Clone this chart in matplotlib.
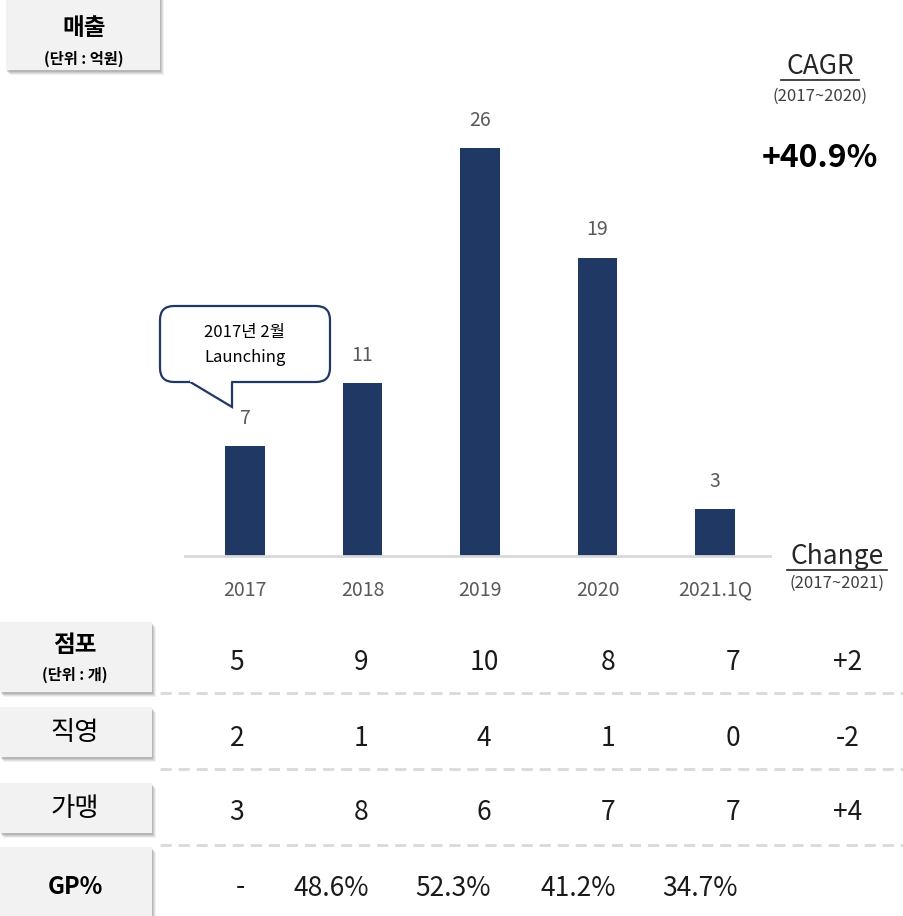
import numpy as np
import matplotlib
matplotlib.use("Agg")
import matplotlib.pyplot as plt
from matplotlib.patches import Rectangle, FancyBboxPatch, Polygon

plt.rcParams['font.family'] = ['Noto Sans CJK KR', 'DejaVu Sans']

# sales (억원) per year
years = ["2017", "2018", "2019", "2020", "2021.1Q"]
sales = [7, 11, 26, 19, 3]

# store counts
stores = [5, 9, 10, 8, 7]
direct = [2, 1, 4, 1, 0]
franchise = [3, 8, 6, 7, 7]
gp_pct = [None, 48.6, 52.3, 41.2, 34.7]
cagr = 40.9

NAVY = "#1F3864"
GRAY = "#595959"
W, H = 904, 916

fig = plt.figure(figsize=(W / 100, H / 100), dpi=100, facecolor="white")

# ---------- bar chart ----------
def px_box(x0, y0, x1, y1):
    return [x0 / W, 1 - y1 / H, (x1 - x0) / W, (y1 - y0) / H]

ax = fig.add_axes(px_box(185, 100, 770, 556))
x = np.arange(len(years))
ax.bar(x, sales, width=0.336, color=NAVY, zorder=2)
for xi, v in zip(x, sales):
    ax.annotate(f"{v}", (xi, v), xytext=(0, 20), textcoords="offset points",
                ha="center", va="center", fontsize=14, color=GRAY)
ax.set_xlim(-0.51, 4.468)
ax.set_ylim(0, 456 / 15.7)
ax.set_xticks(x)
ax.set_xticklabels(years, fontsize=14, color=GRAY)
ax.tick_params(axis="x", length=0, pad=17)
ax.set_yticks([])
for s in ["top", "left", "right"]:
    ax.spines[s].set_visible(False)
ax.spines["bottom"].set_color("#d9d9d9")
ax.spines["bottom"].set_linewidth(2)
ax.patch.set_alpha(0)

# ---------- overlay in pixel coords ----------
ov = fig.add_axes([0, 0, 1, 1])
ov.set_xlim(0, W)
ov.set_ylim(H, 0)
ov.axis("off")
ov.patch.set_alpha(0)


def label_box(x0, y0, x1, y1):
    # soft drop shadow, then the box
    for k, a in enumerate([0.10, 0.14, 0.20, 0.28]):
        off = 5 - k
        ov.add_patch(Rectangle((x0 + off - 1, y0 + off), x1 - x0, y1 - y0,
                               facecolor="#7f7f7f", alpha=a, lw=0, zorder=1))
    ov.add_patch(Rectangle((x0, y0), x1 - x0, y1 - y0,
                           facecolor="#f2f2f2", lw=0, zorder=2))


label_box(6, -5, 160, 70)
ov.text(84, 28, "매출", ha="center", va="center", fontsize=17, fontweight="bold", zorder=3)
ov.text(84, 59, "(단위 : 억원)", ha="center", va="center", fontsize=11, fontweight="bold", zorder=3)

label_box(0, 622, 152, 692)
ov.text(75, 645, "점포", ha="center", va="center", fontsize=17, fontweight="bold", zorder=3)
ov.text(75, 675, "(단위 : 개)", ha="center", va="center", fontsize=11, fontweight="bold", zorder=3)

label_box(0, 707, 152, 757)
ov.text(75, 733, "직영", ha="center", va="center", fontsize=19, zorder=3)

label_box(0, 783, 152, 833)
ov.text(75, 809, "가맹", ha="center", va="center", fontsize=19, zorder=3)

label_box(0, 847, 152, 930)
ov.text(75, 887, "GP%", ha="center", va="center", fontsize=17, fontweight="bold", zorder=3)

# CAGR block
ov.text(820, 67, "CAGR", ha="center", va="center", fontsize=19, color="#262626")
ov.plot([781, 859], [80, 80], color="#262626", lw=1.2)
ov.text(820, 96, "(2017~2020)", ha="center", va="center", fontsize=12, color="#404040")
ov.text(820, 158, f"+{cagr:.1f}%", ha="center", va="center", fontsize=23,
        fontweight="bold", color="black")

# Change header
ov.text(837, 556, "Change", ha="center", va="center", fontsize=19, color="#262626")
ov.plot([787, 887], [570, 570], color="#262626", lw=1.2)
ov.text(837, 583, "(2017~2021)", ha="center", va="center", fontsize=12, color="#404040")

# launch callout
ov.add_patch(FancyBboxPatch((160, 306), 170, 76, boxstyle="round,pad=0,rounding_size=14",
                            facecolor="white", edgecolor=NAVY, lw=1.6, zorder=4))
ov.add_patch(Polygon([(189, 381.2), (232, 407), (232, 381.2)], closed=False,
                     facecolor="white", edgecolor=NAVY, lw=1.6, zorder=5))
ov.add_patch(Rectangle((190, 378), 41, 3.5, facecolor="white", lw=0, zorder=6))
ov.text(245, 332, "2017년 2월", ha="center", va="center", fontsize=12, zorder=7)
ov.text(245, 358, "Launching", ha="center", va="center", fontsize=12, zorder=7)

# table
col_x = [237, 361, 484, 608, 733]
chg_x = 848
rows = [(663, stores), (738, direct), (812, franchise)]
for y, vals in rows:
    for cx, v in zip(col_x, vals):
        ov.text(cx, y, f"{v}", ha="center", va="center", fontsize=19, color="#1a1a1a")
    ov.text(chg_x, y, f"{vals[-1] - vals[0]:+d}", ha="center", va="center",
            fontsize=19, color="#1a1a1a")

gp_x = [240, 331, 453, 578, 700]
for cx, v in zip(gp_x, gp_pct):
    s = "-" if v is None else f"{v:.1f}%"
    ov.text(cx, 888, s, ha="center", va="center", fontsize=19, color="#1a1a1a")

for y in [693, 769, 845]:
    ov.plot([160, 904], [y, y], color="#d9d9d9", lw=2, dashes=(4, 2.5))

fig.savefig("out.png", dpi=100, facecolor="white")
